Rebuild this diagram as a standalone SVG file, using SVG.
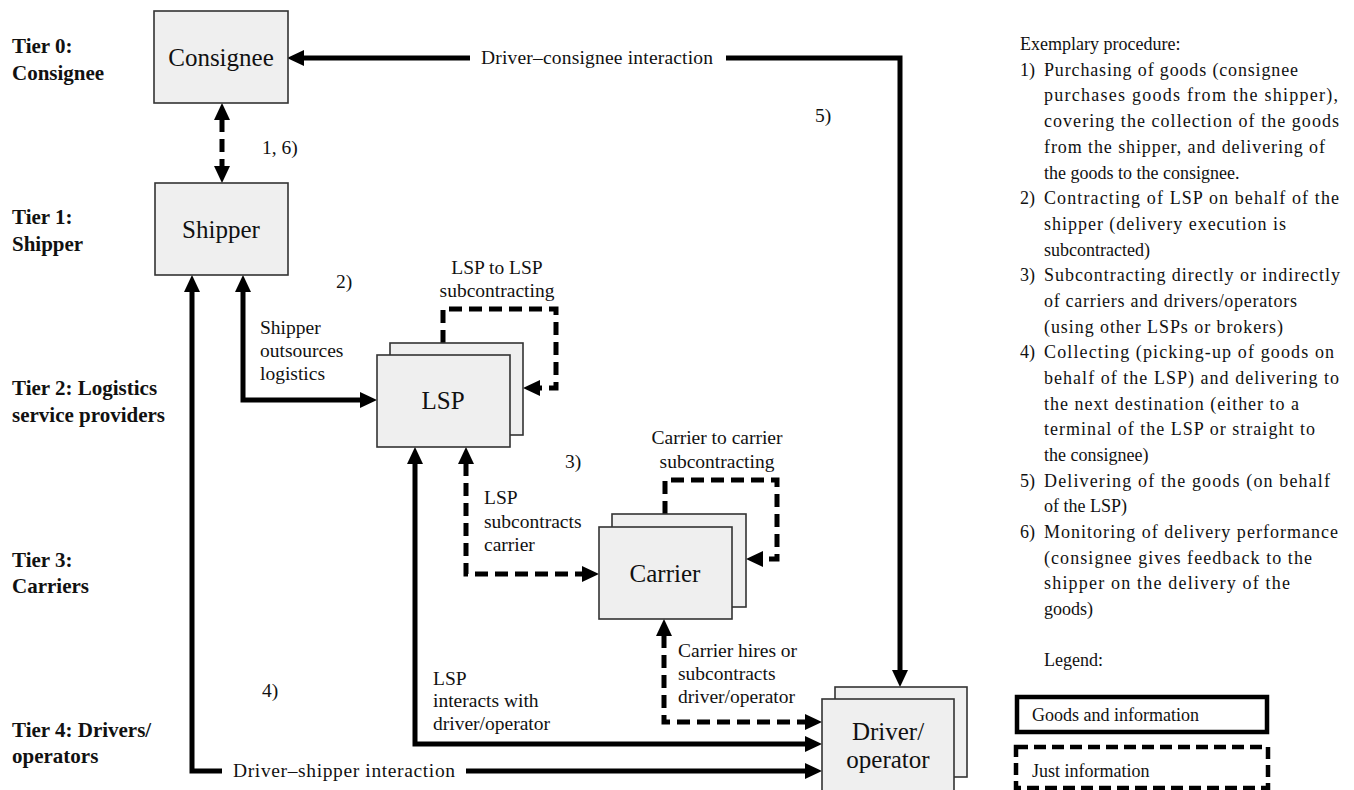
<svg xmlns="http://www.w3.org/2000/svg" width="1354" height="790" viewBox="0 0 1354 790">
<style>
.bg{fill:#ffffff}
.node{fill:#efefef;stroke:#333333;stroke-width:1.6}
.nl{font-family:"Liberation Serif","Times New Roman",serif;font-size:25px;fill:#111;text-anchor:middle}
.tier{font-family:"Liberation Serif","Times New Roman",serif;font-size:21px;font-weight:bold;fill:#111}
.el{font-family:"Liberation Serif","Times New Roman",serif;font-size:19.5px;fill:#111}
.rc{font-family:"Liberation Serif","Times New Roman",serif;font-size:18px;fill:#111}
.solid{fill:none;stroke:#000;stroke-width:5;stroke-linejoin:miter}
.dash{fill:none;stroke:#000;stroke-width:5;stroke-dasharray:13 7;stroke-linejoin:miter}
.gap{fill:#ffffff}
</style>
<defs>
<marker id="ah" markerUnits="userSpaceOnUse" markerWidth="17" markerHeight="16" viewBox="0 0 17 16" refX="1" refY="8" orient="auto-start-reverse">
<path d="M0,0 L17,8 L0,16 z" fill="#000"/>
</marker>
</defs>
<rect class="bg" x="0" y="0" width="1354" height="790"/>

<g id="tier-labels">
<text class="tier" x="12" y="53">Tier 0:</text>
<text class="tier" x="12" y="80">Consignee</text>
<text class="tier" x="12" y="224">Tier 1:</text>
<text class="tier" x="12" y="251">Shipper</text>
<text class="tier" x="12" y="395">Tier 2: Logistics</text>
<text class="tier" x="12" y="422">service providers</text>
<text class="tier" x="12" y="567">Tier 3:</text>
<text class="tier" x="12" y="593">Carriers</text>
<text class="tier" x="12" y="737">Tier 4: Drivers/</text>
<text class="tier" x="12" y="763">operators</text>
</g>

<g id="connectors">
<path class="solid" d="M303,58 H900 V671" marker-start="url(#ah)" marker-end="url(#ah)"/>
<rect class="gap" x="470" y="44" width="256" height="28"/>
<text class="el" x="481" y="64" textLength="232" lengthAdjust="spacing">Driver–consignee interaction</text>

<path class="solid" d="M192,291 V771 H806" marker-start="url(#ah)" marker-end="url(#ah)"/>
<rect class="gap" x="222" y="757" width="244" height="28"/>
<text class="el" x="233" y="777" textLength="222" lengthAdjust="spacing">Driver–shipper interaction</text>

<path class="solid" d="M243,291 V400 H361" marker-start="url(#ah)" marker-end="url(#ah)"/>
<path class="solid" d="M415,463 V744 H806" marker-start="url(#ah)" marker-end="url(#ah)"/>
<path class="dash" d="M466,463 V574 H583" marker-start="url(#ah)" marker-end="url(#ah)"/>
<path class="dash" d="M664,635 V722 H806" marker-start="url(#ah)" marker-end="url(#ah)"/>
<path class="dash" d="M443,343 V309 H556 V388 H539" marker-end="url(#ah)"/>
<path class="dash" d="M665,514 V480 H777 V559 H762" marker-end="url(#ah)"/>
<path class="dash" d="M222,119 V167" marker-start="url(#ah)" marker-end="url(#ah)"/>

<text class="el" x="262" y="154">1, 6)</text>
<text class="el" x="336" y="288">2)</text>
<text class="el" x="565" y="468">3)</text>
<text class="el" x="262" y="697">4)</text>
<text class="el" x="815" y="122">5)</text>

<text class="el" x="260" y="334">Shipper</text>
<text class="el" x="260" y="357">outsources</text>
<text class="el" x="260" y="380">logistics</text>

<text class="el" x="497" y="274" text-anchor="middle">LSP to LSP</text>
<text class="el" x="497" y="297" text-anchor="middle">subcontracting</text>

<text class="el" x="717" y="444" text-anchor="middle">Carrier to carrier</text>
<text class="el" x="717" y="468" text-anchor="middle">subcontracting</text>

<text class="el" x="484" y="504">LSP</text>
<text class="el" x="484" y="528">subcontracts</text>
<text class="el" x="484" y="551">carrier</text>

<text class="el" x="433" y="685">LSP</text>
<text class="el" x="433" y="707">interacts with</text>
<text class="el" x="433" y="730">driver/operator</text>

<text class="el" x="678" y="657">Carrier hires or</text>
<text class="el" x="678" y="680">subcontracts</text>
<text class="el" x="678" y="703">driver/operator</text>
</g>

<g id="consignee">
<rect class="node" x="154" y="11" width="134" height="92"/>
<text class="nl" x="221" y="66">Consignee</text>
</g>
<g id="shipper">
<rect class="node" x="155" y="183" width="133" height="92"/>
<text class="nl" x="221" y="238">Shipper</text>
</g>
<g id="lsp">
<rect class="node" x="390" y="343" width="133" height="92"/>
<rect class="node" x="377" y="355" width="133" height="92"/>
<text class="nl" x="443" y="409">LSP</text>
</g>
<g id="carrier">
<rect class="node" x="612" y="514" width="134" height="93"/>
<rect class="node" x="599" y="527" width="133" height="92"/>
<text class="nl" x="665" y="582">Carrier</text>
</g>
<g id="driver">
<rect class="node" x="835" y="687" width="132" height="90"/>
<rect class="node" x="822" y="699" width="132" height="96"/>
<text class="nl" x="888" y="740">Driver/</text>
<text class="nl" x="888" y="768">operator</text>
</g>

<g id="procedure">
<text class="rc" x="1020" y="50">Exemplary procedure:</text>
<text class="rc" x="1020" y="76">1)</text><text class="rc" x="1044" y="76" textLength="254" lengthAdjust="spacing">Purchasing of goods (consignee</text>
<text class="rc" x="1044" y="101" textLength="294" lengthAdjust="spacing">purchases goods from the shipper),</text>
<text class="rc" x="1044" y="127" textLength="295" lengthAdjust="spacing">covering the collection of the goods</text>
<text class="rc" x="1044" y="153" textLength="281" lengthAdjust="spacing">from the shipper, and delivering of</text>
<text class="rc" x="1044" y="179">the goods to the consignee.</text>
<text class="rc" x="1020" y="204">2)</text><text class="rc" x="1044" y="204" textLength="295" lengthAdjust="spacing">Contracting of LSP on behalf of the</text>
<text class="rc" x="1044" y="230" textLength="242" lengthAdjust="spacing">shipper (delivery execution is</text>
<text class="rc" x="1044" y="256">subcontracted)</text>
<text class="rc" x="1020" y="281">3)</text><text class="rc" x="1044" y="281" textLength="296" lengthAdjust="spacing">Subcontracting directly or indirectly</text>
<text class="rc" x="1044" y="307" textLength="253" lengthAdjust="spacing">of carriers and drivers/operators</text>
<text class="rc" x="1044" y="333" textLength="239" lengthAdjust="spacing">(using other LSPs or brokers)</text>
<text class="rc" x="1020" y="358">4)</text><text class="rc" x="1044" y="358" textLength="290" lengthAdjust="spacing">Collecting (picking-up of goods on</text>
<text class="rc" x="1044" y="384" textLength="295" lengthAdjust="spacing">behalf of the LSP) and delivering to</text>
<text class="rc" x="1044" y="410" textLength="255" lengthAdjust="spacing">the next destination (either to a</text>
<text class="rc" x="1044" y="435" textLength="271" lengthAdjust="spacing">terminal of the LSP or straight to</text>
<text class="rc" x="1044" y="461">the consignee)</text>
<text class="rc" x="1020" y="487">5)</text><text class="rc" x="1044" y="487" textLength="286" lengthAdjust="spacing">Delivering of the goods (on behalf</text>
<text class="rc" x="1044" y="512">of the LSP)</text>
<text class="rc" x="1020" y="538">6)</text><text class="rc" x="1044" y="538" textLength="294" lengthAdjust="spacing">Monitoring of delivery performance</text>
<text class="rc" x="1044" y="564" textLength="268" lengthAdjust="spacing">(consignee gives feedback to the</text>
<text class="rc" x="1044" y="589" textLength="246" lengthAdjust="spacing">shipper on the delivery of the</text>
<text class="rc" x="1044" y="615">goods)</text>
</g>

<g id="legend">
<text class="rc" x="1044" y="666">Legend:</text>
<rect x="1017" y="697" width="250" height="35" fill="#fff" stroke="#000" stroke-width="4.5"/>
<text class="rc" x="1032" y="721">Goods and information</text>
<rect x="1016" y="747" width="252" height="41" fill="#fff" stroke="#000" stroke-width="4.5" stroke-dasharray="12 6"/>
<text class="rc" x="1032" y="777">Just information</text>
</g>
</svg>
